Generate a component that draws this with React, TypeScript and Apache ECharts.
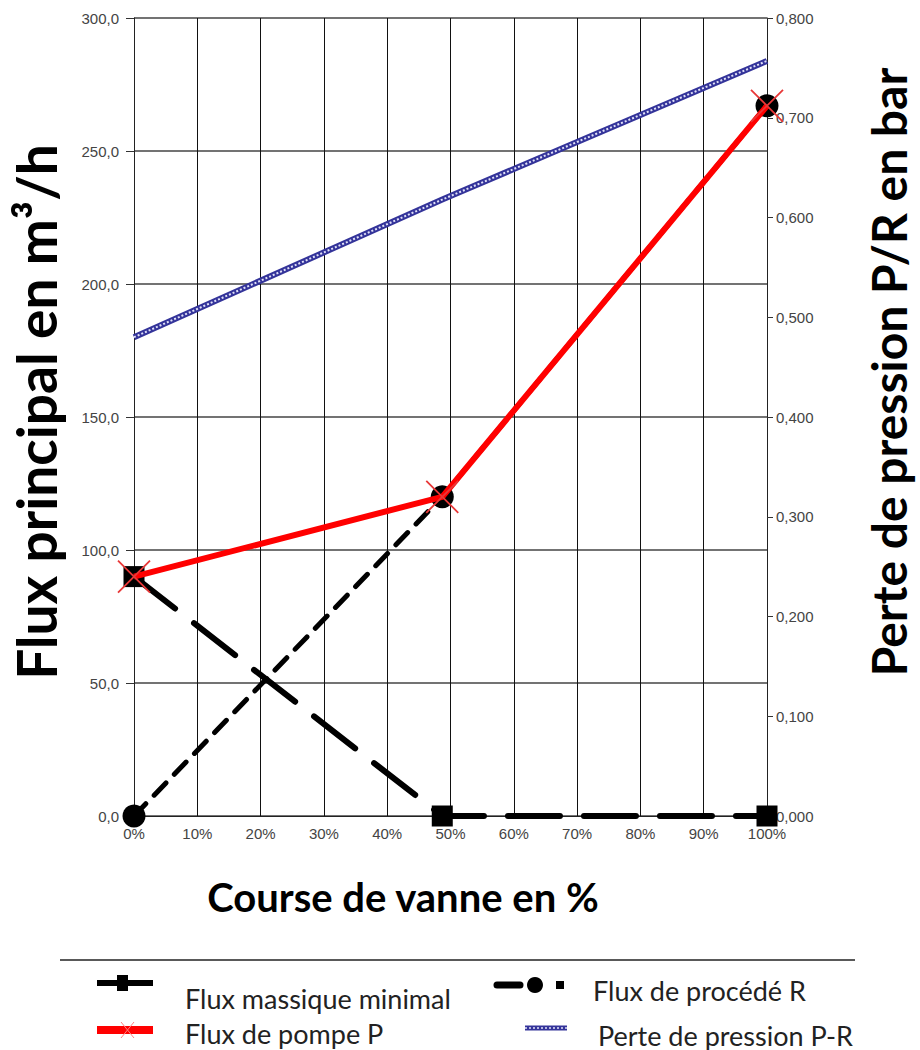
import React, { useEffect, useRef } from "react";
import * as echarts from "echarts";

const xValues = [0, 48.7, 100];
const fluxMassiqueMinimal = [90, 0, 0];
const fluxProcedeR = [0, 120, 267];
const fluxPompeP = [90, 120, 267];
const pertePressionPR = [0.48, 0.618, 0.757];

const xTitle = "Course de vanne en %";
const yLeftTitle = "Flux principal en m³/h";
const yRightTitle = "Perte de pression P/R en bar";
const legendNames = ["Flux massique minimal", "Flux de pompe P", "Flux de procédé R", "Perte de pression P-R"];

const pairs = (ys: number[]) => xValues.map((x, i) => [x, ys[i]]);

const XMARK = "path://M0 0L10 10M10 0L0 10";

export default function App() {
  const ref = useRef<HTMLDivElement>(null);
  useEffect(() => {
    if (!ref.current) return;
    const chart = echarts.init(ref.current, null, { renderer: "svg" });
    const labelStyle = { color: "#444", fontFamily: "Liberation Sans, Arial", fontSize: 15 };
    const titleFont = "Lato";
    chart.setOption({
      animation: false,
      backgroundColor: "#fff",
      grid: { left: 134, right: 153, top: 18, bottom: 234, containLabel: false },
      xAxis: {
        type: "value",
        min: 0,
        max: 100,
        interval: 10,
        axisLine: { show: true, lineStyle: { color: "#222", width: 1 } },
        axisTick: { show: false },
        axisLabel: { ...labelStyle, margin: 10, formatter: (v: number) => `${v}%` },
        splitLine: { show: true, lineStyle: { color: "#111", width: 1 } },
      },
      yAxis: [
        {
          type: "value",
          min: 0,
          max: 300,
          interval: 50,
          axisLine: { show: true, lineStyle: { color: "#222", width: 1 } },
          axisTick: { show: true, length: 8, lineStyle: { color: "#333" } },
          axisLabel: { ...labelStyle, margin: 15, formatter: (v: number) => v.toFixed(1).replace(".", ",") },
          splitLine: { show: true, lineStyle: { color: "#444", width: 1.5 } },
        },
        {
          type: "value",
          min: 0,
          max: 0.8,
          interval: 0.1,
          position: "right",
          axisLine: { show: true, lineStyle: { color: "#222", width: 1 } },
          axisTick: { show: true, length: 6, lineStyle: { color: "#333" } },
          axisLabel: { ...labelStyle, margin: 9, formatter: (v: number) => v.toFixed(3).replace(".", ",") },
          splitLine: { show: false },
        },
      ],
      series: [
        {
          name: legendNames[0],
          type: "line",
          data: pairs(fluxMassiqueMinimal),
          lineStyle: { color: "#000", width: 6, type: [52, 24], cap: "round" },
          symbol: "rect",
          symbolSize: 21,
          itemStyle: { color: "#000" },
          z: 2,
        },
        {
          name: legendNames[2],
          type: "line",
          data: pairs(fluxProcedeR),
          lineStyle: { color: "#000", width: 5, type: [17, 12], cap: "round" },
          symbol: "circle",
          symbolSize: 23,
          itemStyle: { color: "#000" },
          z: 3,
        },
        {
          name: legendNames[3],
          type: "line",
          yAxisIndex: 1,
          data: pairs(pertePressionPR),
          lineStyle: { color: "#34349a", width: 6 },
          symbol: "none",
          z: 4,
        },
        {
          name: legendNames[3] + " (motif)",
          type: "line",
          yAxisIndex: 1,
          data: pairs(pertePressionPR),
          lineStyle: { color: "#e0e0f8", width: 2, type: [2, 2] },
          symbol: "none",
          silent: true,
          z: 5,
        },
        {
          name: legendNames[1],
          type: "line",
          data: pairs(fluxPompeP),
          lineStyle: { color: "#ff0000", width: 6 },
          symbol: XMARK,
          symbolSize: 32,
          itemStyle: { color: "none", borderColor: "#e83838", borderWidth: 1.8 },
          z: 6,
        },
      ],
      graphic: [
        {
          type: "text",
          x: 403,
          y: 897,
          style: { text: xTitle, font: `bold 40px ${titleFont}`, fill: "#000", align: "center", verticalAlign: "middle" },
        },
        {
          type: "text",
          x: 36,
          y: 412,
          rotation: Math.PI / 2,
          style: { text: yLeftTitle, font: `bold 55px ${titleFont}`, fill: "#000", align: "center", verticalAlign: "middle" },
        },
        {
          type: "text",
          x: 888,
          y: 372,
          rotation: Math.PI / 2,
          style: { text: yRightTitle, font: `bold 48px ${titleFont}`, fill: "#000", align: "center", verticalAlign: "middle" },
        },
        // legend separator
        { type: "line", shape: { x1: 60, y1: 960, x2: 855, y2: 960 }, style: { stroke: "#222", lineWidth: 1.5 } },
        // legend item 1: massique
        { type: "line", shape: { x1: 97, y1: 983, x2: 153, y2: 983 }, style: { stroke: "#000", lineWidth: 6 } },
        { type: "rect", shape: { x: 117, y: 975, width: 11, height: 16 }, style: { fill: "#000" } },
        { type: "text", x: 185, y: 998, style: { text: legendNames[0], font: "27px Lato", fill: "#222", verticalAlign: "middle" } },
        // legend item 2: pompe
        { type: "line", shape: { x1: 97, y1: 1030, x2: 153, y2: 1030 }, style: { stroke: "#ff0000", lineWidth: 8 } },
        { type: "line", shape: { x1: 121, y1: 1022, x2: 134, y2: 1038 }, style: { stroke: "#ff8080", lineWidth: 1 } },
        { type: "line", shape: { x1: 134, y1: 1022, x2: 121, y2: 1038 }, style: { stroke: "#ff8080", lineWidth: 1 } },
        { type: "text", x: 185, y: 1033, style: { text: legendNames[1], font: "27px Lato", fill: "#222", verticalAlign: "middle" } },
        // legend item 3: procédé
        { type: "line", shape: { x1: 497, y1: 985, x2: 520, y2: 985 }, style: { stroke: "#000", lineWidth: 7, lineCap: "round" } },
        { type: "circle", shape: { cx: 535, cy: 985, r: 8 }, style: { fill: "#000" } },
        { type: "rect", shape: { x: 556, y: 981, width: 8, height: 8 }, style: { fill: "#000" } },
        { type: "text", x: 593, y: 990, style: { text: legendNames[2], font: "27px Lato", fill: "#222", verticalAlign: "middle" } },
        // legend item 4: perte
        { type: "line", shape: { x1: 525, y1: 1028, x2: 567, y2: 1028 }, style: { stroke: "#34349a", lineWidth: 5 } },
        { type: "line", shape: { x1: 525, y1: 1028, x2: 567, y2: 1028 }, style: { stroke: "#e0e0f8", lineWidth: 1.5, lineDash: [2, 2] } },
        { type: "text", x: 598, y: 1035, style: { text: legendNames[3], font: "27px Lato", fill: "#222", verticalAlign: "middle" } },
      ],
    });
    return () => chart.dispose();
  }, []);
  return <div ref={ref} style={{ position: "fixed", left: 0, top: 0, width: 920, height: 1050, background: "#fff" }} />;
}
